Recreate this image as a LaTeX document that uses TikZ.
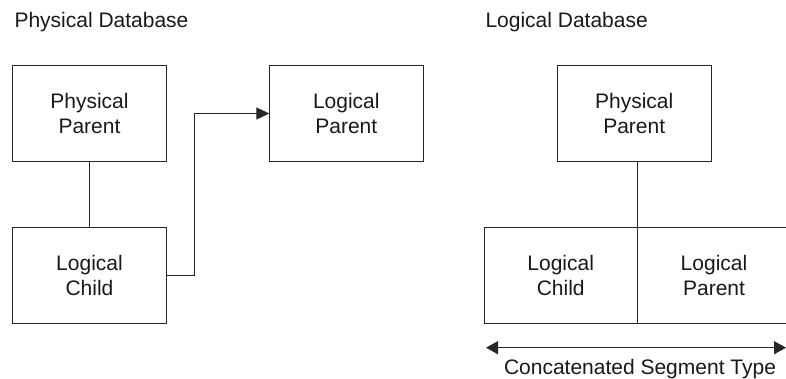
\documentclass[tikz,border=0pt]{standalone}
\usepackage{fontspec}
\setmainfont{Liberation Sans}
\usetikzlibrary{arrows.meta}
\begin{document}
\begin{tikzpicture}[x=1pt,y=-1pt,
  every node/.style={font=\fontsize{21}{24.7}\selectfont, text=black!90},
  seg/.style={draw=black!85, line width=1.1pt, rectangle, inner sep=0pt, outer sep=0pt,
    minimum width=154pt, minimum height=96pt, align=center},
  link/.style={draw=black!85, line width=1.1pt},
  tip/.style={-{Triangle[length=13pt,width=12pt]}},
  title/.style={anchor=base west}]
\useasboundingbox (0,0) rectangle (786,378);
\clip (0,0) rectangle (786,378);

% physical database
\node[title] (t1) at (11,27.7) {Physical Database};
\node[seg] (pp1) at (89.5,113.5) {Physical\\Parent};
\node[seg] (lc1) at (89.5,275.3) {Logical\\Child};
\node[seg] (lp1) at (346.3,113.5) {Logical\\Parent};
\draw[link] (pp1.south) -- (lc1.north);
\draw[link,tip] (lc1.east) -- ++(28,0) |- (lp1.west);

% logical database
\node[title] (t2) at (482,27.7) {Logical Database};
\node[seg] (pp2) at (634.2,113.5) {Physical\\Parent};
\node[seg, minimum width=153.3pt] (lc2) at (560.7,275.3) {Logical\\Child};
\node[seg, minimum width=153.3pt, anchor=west] (lp2) at (lc2.east) {Logical\\Parent};
\draw[link] (lc2.north east) -- (lc2.north east |- pp2.south);

% extent of the concatenated segment
\coordinate (ca) at (486,347.7);
\coordinate (cb) at (786,347.7);
\draw[link,{Triangle[length=12pt,width=13pt]}-{Triangle[length=12pt,width=13pt]}] (ca) -- (cb);
\node[anchor=base] (cap) at (640,374) {Concatenated Segment Type};
\end{tikzpicture}
\end{document}
